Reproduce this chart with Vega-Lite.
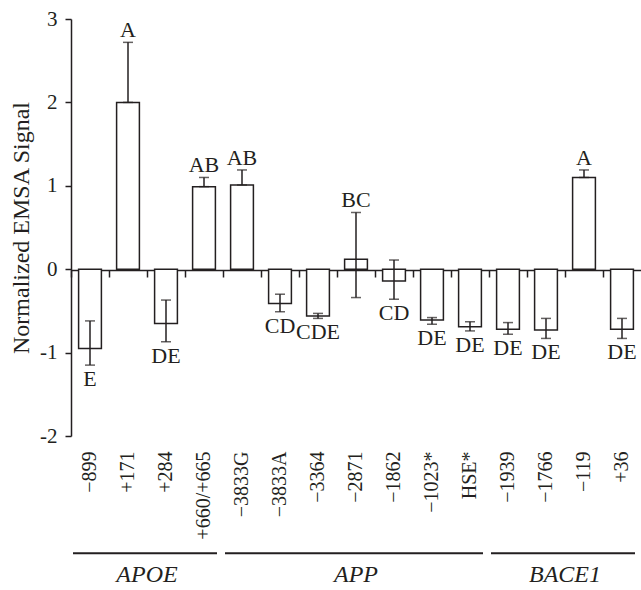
{
  "$schema": "https://vega.github.io/schema/vega-lite/v6.json",
  "width": 570,
  "height": 417,
  "autosize": {"type": "none"},
  "padding": {"left": 71, "top": 19, "right": 0, "bottom": 154},
  "config": {
    "view": {"stroke": null},
    "font": "Liberation Serif",
    "axis": {
      "labelFont": "Liberation Serif",
      "titleFont": "Liberation Serif",
      "labelColor": "#231f20",
      "titleColor": "#231f20",
      "domainColor": "#231f20",
      "tickColor": "#231f20",
      "grid": false
    }
  },
  "datasets": {
    "bars": [
      {"site": "−899", "gene": "APOE", "value": -0.95, "hi": -0.62, "lo": -1.15, "grp": "E"},
      {"site": "+171", "gene": "APOE", "value": 2.0, "hi": 2.72, "lo": 2.0, "grp": "A"},
      {"site": "+284", "gene": "APOE", "value": -0.65, "hi": -0.37, "lo": -0.87, "grp": "DE"},
      {"site": "+660/+665", "gene": "APOE", "value": 0.99, "hi": 1.1, "lo": 0.99, "grp": "AB"},
      {"site": "−3833G", "gene": "APP", "value": 1.01, "hi": 1.19, "lo": 1.01, "grp": "AB"},
      {"site": "−3833A", "gene": "APP", "value": -0.41, "hi": -0.3, "lo": -0.51, "grp": "CD"},
      {"site": "−3364", "gene": "APP", "value": -0.56, "hi": -0.53, "lo": -0.59, "grp": "CDE"},
      {"site": "−2871", "gene": "APP", "value": 0.12, "hi": 0.68, "lo": -0.34, "grp": "BC"},
      {"site": "−1862", "gene": "APP", "value": -0.14, "hi": 0.11, "lo": -0.36, "grp": "CD"},
      {"site": "−1023*", "gene": "APP", "value": -0.61, "hi": -0.58, "lo": -0.66, "grp": "DE"},
      {"site": "HSE*", "gene": "APP", "value": -0.69, "hi": -0.63, "lo": -0.74, "grp": "DE"},
      {"site": "−1939", "gene": "BACE1", "value": -0.72, "hi": -0.64, "lo": -0.78, "grp": "DE"},
      {"site": "−1766", "gene": "BACE1", "value": -0.73, "hi": -0.59, "lo": -0.83, "grp": "DE"},
      {"site": "−119", "gene": "BACE1", "value": 1.1, "hi": 1.19, "lo": 1.1, "grp": "A"},
      {"site": "+36", "gene": "BACE1", "value": -0.72, "hi": -0.59, "lo": -0.83, "grp": "DE"}
    ],
    "genes": [
      {"gene": "APOE", "first": "−899", "last": "+660/+665", "mid": "+284"},
      {"gene": "APP", "first": "−3833G", "last": "HSE*", "mid": "−2871"},
      {"gene": "BACE1", "first": "−1939", "last": "+36", "mid": "−119"}
    ]
  },
  "layer": [
    {
      "data": {"name": "bars"},
      "mark": {"type": "bar", "fill": "white", "stroke": "#231f20", "strokeWidth": 1.5, "width": {"band": 0.6}},
      "encoding": {
        "x": {
          "field": "site", "type": "nominal",
          "scale": {"type": "band", "domain": ["−899", "+171", "+284", "+660/+665", "−3833G", "−3833A", "−3364", "−2871", "−1862", "−1023*", "HSE*", "−1939", "−1766", "−119", "+36"], "paddingInner": 0, "paddingOuter": 0},
          "axis": {"title": null, "labels": false, "offset": -166, "tickSize": 7, "tickWidth": 1.5, "domainWidth": 1.5, "bandPosition": 0}
        },
        "y": {
          "field": "value", "type": "quantitative",
          "scale": {"domain": [-2, 3], "nice": false},
          "axis": {"title": "Normalized EMSA Signal", "values": [-2, -1, 0, 1, 2, 3], "labelExpr": "'' + datum.value", "tickSize": 6, "tickWidth": 1.5, "domainWidth": 1.5, "labelPadding": 8, "labelFontSize": 21, "titleFontSize": 24, "titleFontWeight": "normal", "titlePadding": 6}
        },
        "y2": {"datum": 0}
      }
    },
    {
      "data": {"name": "bars"},
      "mark": {"type": "rule", "stroke": "#231f20", "strokeWidth": 1.5},
      "encoding": {
        "x": {
          "field": "site", "type": "nominal", "scale": {"type": "band"},
          "axis": {"title": null, "orient": "bottom", "domain": false, "ticks": false, "tickSize": 0, "labelAngle": -90, "labelPadding": 15, "labelFontSize": 20}
        },
        "y": {"field": "lo", "type": "quantitative", "axis": null},
        "y2": {"field": "hi"}
      }
    },
    {
      "data": {"name": "bars"},
      "mark": {"type": "tick", "color": "#231f20", "size": 10, "thickness": 1.5, "orient": "horizontal"},
      "encoding": {
        "x": {"field": "site", "type": "nominal", "scale": {"type": "band"}, "axis": null},
        "y": {"field": "hi", "type": "quantitative", "axis": null}
      }
    },
    {
      "data": {"name": "bars"},
      "mark": {"type": "tick", "color": "#231f20", "size": 10, "thickness": 1.5, "orient": "horizontal"},
      "encoding": {
        "x": {"field": "site", "type": "nominal", "scale": {"type": "band"}, "axis": null},
        "y": {"field": "lo", "type": "quantitative", "axis": null}
      }
    },
    {
      "data": {"name": "bars"},
      "transform": [{"filter": "datum.value > 0"}],
      "mark": {"type": "text", "baseline": "alphabetic", "dy": -5, "fontSize": 22, "color": "#231f20"},
      "encoding": {
        "x": {"field": "site", "type": "nominal", "scale": {"type": "band"}, "axis": null},
        "y": {"field": "hi", "type": "quantitative", "axis": null},
        "text": {"field": "grp"}
      }
    },
    {
      "data": {"name": "bars"},
      "transform": [{"filter": "datum.value < 0"}],
      "mark": {"type": "text", "baseline": "top", "dy": 4, "fontSize": 22, "color": "#231f20"},
      "encoding": {
        "x": {"field": "site", "type": "nominal", "scale": {"type": "band"}, "axis": null},
        "y": {"field": "lo", "type": "quantitative", "axis": null},
        "text": {"field": "grp"}
      }
    },
    {
      "data": {"name": "genes"},
      "mark": {"type": "rule", "strokeWidth": 2, "color": "#231f20", "xOffset": 2, "x2Offset": -6},
      "encoding": {
        "x": {"field": "first", "type": "nominal", "bandPosition": 0, "scale": {"type": "band"}, "axis": null},
        "x2": {"field": "last", "bandPosition": 1},
        "y": {"datum": -3.405, "type": "quantitative", "axis": null}
      }
    },
    {
      "data": {"name": "genes"},
      "transform": [{"filter": "datum.gene !== 'APP'"}],
      "mark": {"type": "text", "fontStyle": "italic", "fontSize": 24, "baseline": "middle", "color": "#231f20"},
      "encoding": {
        "x": {"field": "mid", "type": "nominal", "bandPosition": 0, "scale": {"type": "band"}, "axis": null},
        "y": {"datum": -3.67, "type": "quantitative", "axis": null},
        "text": {"field": "gene"}
      }
    },
    {
      "data": {"name": "genes"},
      "transform": [{"filter": "datum.gene === 'APP'"}],
      "mark": {"type": "text", "fontStyle": "italic", "fontSize": 24, "baseline": "middle", "color": "#231f20"},
      "encoding": {
        "x": {"field": "mid", "type": "nominal", "bandPosition": 0.5, "scale": {"type": "band"}, "axis": null},
        "y": {"datum": -3.67, "type": "quantitative", "axis": null},
        "text": {"field": "gene"}
      }
    }
  ],
  "resolve": {"axis": {"x": "independent", "y": "independent"}}
}
